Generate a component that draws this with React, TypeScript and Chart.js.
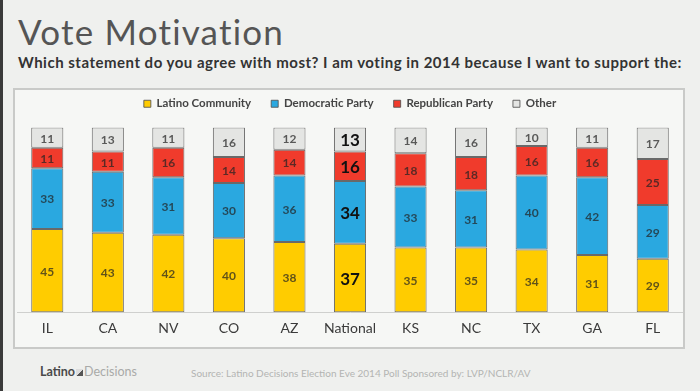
import React, { useEffect, useRef } from "react";
import { Chart, registerables } from "chart.js";

Chart.register(...registerables);

const categories = ["IL", "CA", "NV", "CO", "AZ", "National", "KS", "NC", "TX", "GA", "FL"];
const latinoCommunity = [45, 43, 42, 40, 38, 37, 35, 35, 34, 31, 29];
const democraticParty = [33, 33, 31, 30, 36, 34, 33, 31, 40, 42, 29];
const republicanParty = [11, 11, 16, 14, 14, 16, 18, 18, 16, 16, 25];
const other = [11, 13, 11, 16, 12, 13, 14, 16, 10, 11, 17];
const seriesNames = ["Latino Community", "Democratic Party", "Republican Party", "Other"];

const seriesColors = ["#FFCC00", "#2AA8E0", "#F03B2C", "#E4E5E3"];
const FONT = "Lato, 'Open Sans', sans-serif";

const segLabels = {
  id: "segLabels",
  afterDatasetsDraw(chart: any) {
    const ctx = chart.ctx;
    ctx.save();
    ctx.textAlign = "center";
    ctx.textBaseline = "middle";
    chart.data.datasets.forEach((ds: any, di: number) => {
      const meta = chart.getDatasetMeta(di);
      meta.data.forEach((bar: any, i: number) => {
        const p = bar.getProps(["x", "y", "base"], true);
        const nat = chart.data.labels[i] === "National";
        ctx.font = nat ? `bold 17px ${FONT}` : `bold 12px ${FONT}`;
        ctx.fillStyle = nat ? "#111" : "rgba(35,35,35,0.72)";
        ctx.fillText(String(ds.data[i]), p.x, (p.y + p.base) / 2 + 1);
      });
    });
    ctx.restore();
  },
};

const legendGap = {
  id: "legendGap",
  beforeInit(chart: any) {
    const lg = chart.legend;
    if (!lg) return;
    const orig = lg.fit;
    lg.fit = function () {
      orig.call(this);
      this.height += 8;
    };
  },
};

export default function App() {
  const ref = useRef<HTMLCanvasElement>(null);
  useEffect(() => {
    const chart = new Chart(ref.current as HTMLCanvasElement, {
      type: "bar",
      data: {
        labels: categories,
        datasets: [latinoCommunity, democraticParty, republicanParty, other].map((d, k) => ({
          label: seriesNames[k],
          data: d,
          backgroundColor: seriesColors[k],
          borderColor: "rgba(80,80,80,0.85)",
          borderWidth: 1,
          borderSkipped: false,
          barPercentage: 0.53,
          categoryPercentage: 1,
        })),
      },
      options: {
        animation: false,
        responsive: false,
        layout: { padding: { left: 2, right: 0, top: 0, bottom: 4 } },
        plugins: {
          legend: {
            position: "top",
            labels: {
              boxWidth: 7,
              boxHeight: 7,
              padding: 20,
              color: "#444",
              font: { family: FONT, size: 11.5, weight: "bold" },
            },
          },
          tooltip: { enabled: false },
        },
        scales: {
          x: {
            stacked: true,
            grid: { display: false, drawTicks: false },
            border: { display: true, color: "#cfd0ce", width: 1 },
            ticks: { padding: 8, color: "#3a3a3a", font: { family: FONT, size: 14 } },
          },
          y: {
            stacked: true,
            display: false,
            min: 0,
            max: 100,
          },
        },
      },
      plugins: [legendGap, segLabels],
    });
    return () => chart.destroy();
  }, []);

  return (
    <div
      style={{
        position: "fixed",
        left: 0,
        top: 0,
        width: 700,
        height: 391,
        background: "#eff0ee",
        overflow: "hidden",
        fontFamily: FONT,
      }}
    >
      <div style={{ position: "absolute", left: 0, top: 0, width: 3, height: 391, background: "#3a3a3a" }} />
      <div
        style={{
          position: "absolute",
          left: 18,
          top: 14,
          fontSize: 35,
          lineHeight: 1,
          letterSpacing: 1.2,
          color: "#555",
          whiteSpace: "nowrap",
        }}
      >
        Vote Motivation
      </div>
      <div
        style={{
          position: "absolute",
          left: 18,
          top: 55,
          fontSize: 15,
          lineHeight: 1,
          letterSpacing: 0.5,
          fontWeight: "bold",
          color: "#333",
          whiteSpace: "nowrap",
        }}
      >
        Which statement do you agree with most? I am voting in 2014 because I want to support the:
      </div>
      <div
        style={{
          position: "absolute",
          left: 13,
          top: 88,
          width: 672,
          height: 261,
          boxSizing: "border-box",
          border: "2px solid #c9cac8",
          background: "#f6f7f5",
        }}
      />
      <canvas
        ref={ref}
        width={668}
        height={271}
        style={{ position: "absolute", left: 15, top: 78, width: 668, height: 271 }}
      />
      <div
        style={{
          position: "absolute",
          left: 40,
          top: 366,
          fontSize: 12.5,
          lineHeight: 1,
          whiteSpace: "nowrap",
          display: "flex",
          alignItems: "center",
        }}
      >
        <span style={{ fontWeight: "bold", color: "#4a4a4a" }}>Latino</span>
        <span
          style={{
            display: "inline-block",
            width: 7,
            height: 7,
            margin: "0 1px",
            background: "linear-gradient(135deg, #ddd 50%, #555 50%)",
          }}
        />
        <span style={{ color: "#a9aaa8" }}>Decisions</span>
      </div>
      <div
        style={{
          position: "absolute",
          left: 191,
          top: 368,
          fontSize: 10,
          lineHeight: 1,
          color: "#b3b4b2",
          whiteSpace: "nowrap",
        }}
      >
        Source: Latino Decisions Election Eve 2014 Poll Sponsored by: LVP/NCLR/AV
      </div>
    </div>
  );
}
